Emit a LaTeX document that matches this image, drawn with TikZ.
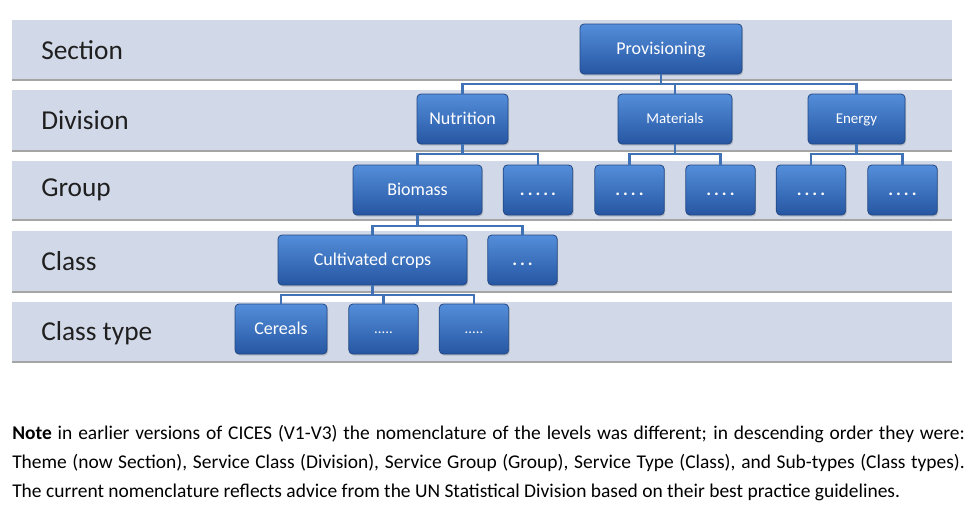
\documentclass[tikz,border=0pt]{standalone}
\usepackage{fontspec}
\setmainfont{Carlito}
\usepackage{tikz}
\usetikzlibrary{shadows}

\definecolor{bandfill}{RGB}{209,216,231}
\definecolor{bandedge}{RGB}{165,165,165}
\definecolor{boxtop}{RGB}{84,142,218}
\definecolor{boxmid}{RGB}{56,118,200}
\definecolor{boxbot}{RGB}{38,86,162}
\definecolor{boxline}{RGB}{34,72,132}
\definecolor{linkblue}{RGB}{66,114,182}

\begin{document}
\begin{tikzpicture}[x=0.75pt,y=-0.75pt,
  band/.style={fill=bandfill},
  bandline/.style={bandedge,line width=1.5pt},
  level/.style={anchor=west,inner sep=0pt,text=black!88,font=\fontsize{20.5}{24}\selectfont},
  cbox/.style={rounded corners=3pt,draw=boxline,line width=0.6pt,top color=boxtop,middle color=boxmid,bottom color=boxbot,
    text=white,minimum height=37.5pt,inner sep=2pt,text height=8.2pt,text depth=0pt,font=\fontsize{13.5}{16}\selectfont,
    drop shadow={opacity=0.35,shadow xshift=0.8pt,shadow yshift=-1.2pt}},
  smallbox/.style={cbox,text height=7.2pt,font=\fontsize{11.2}{14}\selectfont},
  dotbox/.style={cbox,minimum width=52pt,font=\fontsize{13.5}{16}\bfseries},
  tinydotbox/.style={cbox,minimum width=52pt,text height=7.2pt,font=\fontsize{11}{13}\selectfont},
  link/.style={linkblue,line width=1.6pt},
  note/.style={anchor=north west,inner sep=0pt,text width=714.5pt,align=justify,font=\fontsize{14.6}{21.75}\selectfont}]

\useasboundingbox (0,0) rectangle (972,507) ;

\fill[band] (12,20) rectangle (952,80) ;
\fill[band] (12,90) rectangle (952,151) ;
\fill[band] (12,161) rectangle (952,220) ;
\fill[band] (12,231) rectangle (952,292) ;
\fill[band] (12,302) rectangle (952,362) ;

\draw[bandline] (12,80) -- (952,80) ;
\draw[bandline] (12,151) -- (952,151) ;
\draw[bandline] (12,220) -- (952,220) ;
\draw[bandline] (12,292) -- (952,292) ;
\draw[bandline] (12,362) -- (952,362) ;

\node[level] (lsection) at (41,50) {Section} ;
\node[level] (ldivision) at (41,120) {Division} ;
\node[level] (lgroup) at (41,190) {Group} ;
\node[level] (lclass) at (41,261) {Class} ;
\node[level] (lclasstype) at (41,333) {Class type} ;

\node[cbox,minimum width=121.5pt] (prov) at (661,49) {Provisioning} ;

\node[cbox,minimum width=68.25pt] (nutr) at (462.5,119) {Nutrition} ;
\node[smallbox,minimum width=85.5pt] (mater) at (675,119) {Materials} ;
\node[smallbox,minimum width=72.75pt] (energ) at (856.5,119) {Energy} ;

\node[cbox,minimum width=96.75pt] (biom) at (417.5,190) {Biomass} ;
\node[dotbox] (gdotsa) at (538,190) {.\,.\,.\,.\,.} ;
\node[dotbox] (gdotsb) at (629.5,190) {.\,.\,.\,.} ;
\node[dotbox] (gdotsc) at (720.5,190) {.\,.\,.\,.} ;
\node[dotbox] (gdotsd) at (811,190) {.\,.\,.\,.} ;
\node[dotbox] (gdotse) at (902.5,190) {.\,.\,.\,.} ;

\node[cbox,minimum width=141.75pt] (crops) at (372.5,260) {Cultivated crops} ;
\node[dotbox] (cdots) at (522.5,260) {.\,.\,.} ;

\node[cbox,minimum width=69pt] (cereal) at (281,329) {Cereals} ;
\node[tinydotbox] (tdotsa) at (383.5,329) {.....} ;
\node[tinydotbox] (tdotsb) at (474,329) {.....} ;

\draw[link] (prov.south) -- ++(0,10) -| (nutr.north) ;
\draw[link] (prov.south) -- ++(0,10) -| (mater.north) ;
\draw[link] (prov.south) -- ++(0,10) -| (energ.north) ;

\draw[link] (nutr.south) -- ++(0,10) -| (biom.north) ;
\draw[link] (nutr.south) -- ++(0,10) -| (gdotsa.north) ;
\draw[link] (mater.south) -- ++(0,10) -| (gdotsb.north) ;
\draw[link] (mater.south) -- ++(0,10) -| (gdotsc.north) ;
\draw[link] (energ.south) -- ++(0,10) -| (gdotsd.north) ;
\draw[link] (energ.south) -- ++(0,10) -| (gdotse.north) ;

\draw[link] (biom.south) -- ++(0,11) -| (crops.north) ;
\draw[link] (biom.south) -- ++(0,11) -| (cdots.north) ;

\draw[link] (crops.south) -- ++(0,10) -| (cereal.north) ;
\draw[link] (crops.south) -- ++(0,10) -| (tdotsa.north) ;
\draw[link] (crops.south) -- ++(0,10) -| (tdotsb.north) ;

\node[note] (notetext) at (12,425) {\textbf{Note} in earlier versions of CICES (V1-V3) the nomenclature of the levels was different; in descending order they were:\linebreak
Theme (now Section), Service Class (Division), Service Group (Group), Service Type (Class), and Sub-types (Class types).\linebreak
The current nomenclature reflects advice from the UN Statistical Division based on their best practice guidelines.} ;

\end{tikzpicture}
\end{document}
